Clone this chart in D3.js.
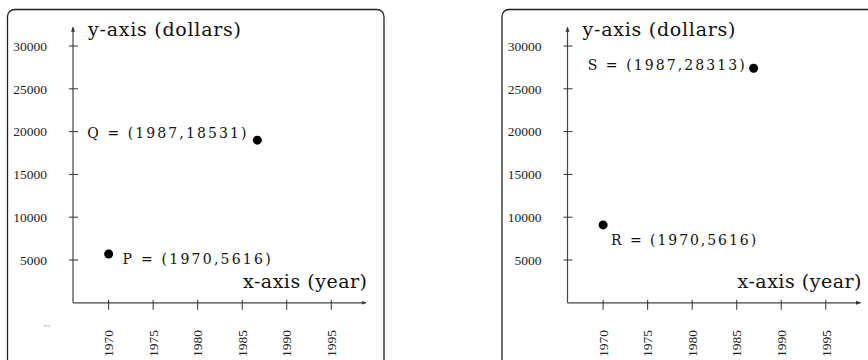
<!DOCTYPE html>
<html>
<head>
<meta charset="utf-8">
<script src="https://cdn.jsdelivr.net/npm/d3@7"></script>
<style>
  body { margin: 0; background: #fff; }
  svg { display: block; }
</style>
</head>
<body>
<div id="chart"></div>
<script>
// tick values shared by both panels
var yearTicks = [1970, 1975, 1980, 1985, 1990, 1995];
var dollarTicks = [5000, 10000, 15000, 20000, 25000, 30000];

// left panel points (as plotted) and their labels
var leftYears = [1970, 1986.7];
var leftDollars = [5700, 19000];
var leftLabels = ["P = (1970,5616)", "Q = (1987,18531)"];

// right panel points (as plotted) and their labels
var rightYears = [1970, 1986.9];
var rightDollars = [9100, 27400];
var rightLabels = ["R = (1970,5616)", "S = (1987,28313)"];

var width = 868, height = 360;

var svg = d3.select("#chart").append("svg")
    .attr("width", width)
    .attr("height", height);

var defs = svg.append("defs");
defs.append("marker")
    .attr("id", "arrow")
    .attr("viewBox", "0 0 10 10")
    .attr("refX", 9)
    .attr("refY", 5)
    .attr("markerWidth", 5)
    .attr("markerHeight", 5)
    .attr("markerUnits", "userSpaceOnUse")
    .attr("orient", "auto")
  .append("path")
    .attr("d", "M0,1 L10,5 L0,9 Z")
    .style("fill", "#333");

// one panel, dx = horizontal offset of the whole panel
function drawPanel(dx, years, dollars, labels, labelPos, tiny) {
  var g = svg.append("g").attr("transform", "translate(" + dx + ",0)");

  // frame, bottom runs off the picture
  g.append("rect")
      .attr("x", 7.5).attr("y", 9.5)
      .attr("width", 376.5).attr("height", 420)
      .attr("rx", 7).attr("ry", 7)
      .style("fill", "none")
      .style("stroke", "#222")
      .style("stroke-width", 1.3);

  var x = d3.scaleLinear().domain([1966, 1998.9]).range([73, 366]);
  var y = d3.scaleLinear().domain([0, 30000]).range([302.8, 46]);

  // axes with arrow heads
  g.append("line")
      .attr("x1", x(1966)).attr("y1", y(0))
      .attr("x2", x(1998.9)).attr("y2", y(0))
      .attr("marker-end", "url(#arrow)")
      .style("stroke", "#444").style("stroke-width", 1.2);
  g.append("line")
      .attr("x1", x(1966)).attr("y1", y(0))
      .attr("x2", x(1966)).attr("y2", y(32200))
      .attr("marker-end", "url(#arrow)")
      .style("stroke", "#444").style("stroke-width", 1.2);

  // y ticks and labels
  g.selectAll(".ytick").data(dollarTicks).enter().append("line")
      .attr("class", "ytick")
      .attr("x1", x(1966) - 4).attr("x2", x(1966) + 5)
      .attr("y1", function(d) { return y(d); })
      .attr("y2", function(d) { return y(d); })
      .style("stroke", "#333").style("stroke-width", 1);
  g.selectAll(".ylab").data(dollarTicks).enter().append("text")
      .attr("class", "ylab")
      .attr("x", 47)
      .attr("y", function(d) { return y(d); })
      .attr("dy", "0.35em")
      .attr("text-anchor", "end")
      .style("font", "13.5px 'Liberation Serif'")
      .style("fill", "#222")
      .text(function(d) { return d; });

  // x ticks and rotated labels
  g.selectAll(".xtick").data(yearTicks).enter().append("line")
      .attr("class", "xtick")
      .attr("x1", function(d) { return x(d); })
      .attr("x2", function(d) { return x(d); })
      .attr("y1", y(0) - 3).attr("y2", y(0) + 7)
      .style("stroke", "#333").style("stroke-width", 1);
  g.selectAll(".xlab").data(yearTicks).enter().append("text")
      .attr("class", "xlab")
      .attr("text-anchor", "end")
      .attr("dy", "0.35em")
      .attr("transform", function(d) {
        return "translate(" + x(d) + ",330)rotate(-90)";
      })
      .style("font", "13.5px 'Liberation Serif'")
      .style("fill", "#222")
      .text(function(d) { return d; });

  // axis titles
  g.append("text")
      .attr("x", 88).attr("y", 36)
      .attr("textLength", 153).attr("lengthAdjust", "spacing")
      .style("font", "19px 'DejaVu Serif'")
      .style("fill", "#111")
      .text("y-axis (dollars)");
  g.append("text")
      .attr("x", 243).attr("y", 288)
      .attr("textLength", 124).attr("lengthAdjust", "spacing")
      .style("font", "19px 'DejaVu Serif'")
      .style("fill", "#111")
      .text("x-axis (year)");

  // points
  var pts = years.map(function(d, i) { return [d, dollars[i], labels[i], labelPos[i]]; });
  g.selectAll(".dot").data(pts).enter().append("circle")
      .attr("class", "dot")
      .attr("cx", function(d) { return x(d[0]); })
      .attr("cy", function(d) { return y(d[1]); })
      .attr("r", 4.5)
      .style("fill", "#000");

  g.selectAll(".plab").data(pts).enter().append("text")
      .attr("class", "plab")
      .attr("x", function(d) { return x(d[0]) + d[3].dx; })
      .attr("y", function(d) { return y(d[1]) + d[3].dy; })
      .attr("dy", "0.35em")
      .attr("text-anchor", function(d) { return d[3].anchor; })
      .attr("textLength", function(d) { return d[3].len; })
      .attr("lengthAdjust", "spacing")
      .style("font", "14px 'DejaVu Serif'")
      .style("fill", "#111")
      .text(function(d) { return d[2]; });

  if (tiny) {
    g.append("text")
        .attr("x", 47).attr("y", 327)
        .attr("text-anchor", "middle")
        .style("font", "4px 'DejaVu Sans'")
        .style("fill", "#999")
        .text("ncs");
  }
}

drawPanel(0, leftYears, leftDollars, leftLabels, [
  {dx: 14, dy: 5, anchor: "start", len: 148},
  {dx: -11, dy: -7, anchor: "end", len: 159}
], true);

drawPanel(494.5, rightYears, rightDollars, rightLabels, [
  {dx: 8, dy: 15, anchor: "start", len: 145},
  {dx: -9, dy: -3, anchor: "end", len: 157}
], false);
</script>
</body>
</html>
